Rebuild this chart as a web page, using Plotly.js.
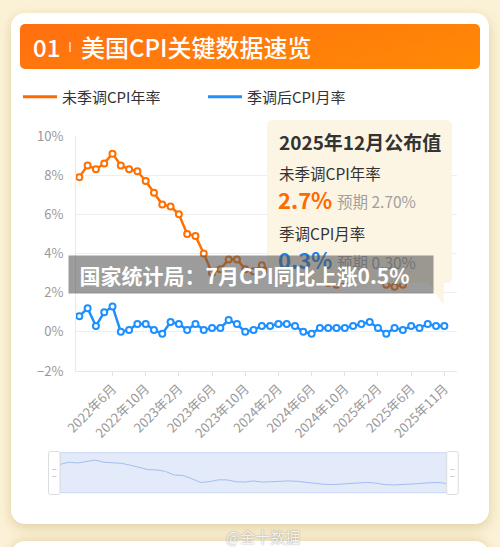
<!DOCTYPE html>
<html><head><meta charset="utf-8">
<script src="https://cdn.plot.ly/plotly-3.0.1.min.js"></script>
<style>
html,body{margin:0;padding:0;width:500px;height:547px;overflow:hidden;background:#fbf1d6;font-family:"Noto Sans CJK SC","Noto Sans",sans-serif;}
#card{position:absolute;left:11px;top:13px;width:478px;height:511px;background:#fff;border-radius:14px;box-shadow:0 4px 12px rgba(190,160,90,0.40);}
#card2{position:absolute;left:11px;top:541px;width:478px;height:40px;background:#fff;border-radius:14px;box-shadow:0 -2px 8px rgba(190,160,90,0.30);}
#header{position:absolute;left:20px;top:24px;width:460px;height:45px;border-radius:5px;background:linear-gradient(165deg,#ff6f10,#ff8a05);}
#hnum{position:absolute;left:13px;top:0;line-height:45px;font-size:24px;color:#fff;font-weight:500;}
#hsep{position:absolute;left:49px;top:18px;width:1.5px;height:10px;background:rgba(255,255,255,0.55);}
#htitle{position:absolute;left:61px;top:0;line-height:45px;font-size:24px;color:#fff;font-weight:500;}
#wm{position:absolute;left:226px;top:526px;font-size:15px;color:rgba(255,255,255,0.9);text-shadow:0 0 1.5px rgba(0,0,0,0.45);}
#chart{position:absolute;left:0;top:0;width:500px;height:547px;}
</style></head>
<body>
<div id="card"></div>
<div id="card2"></div>
<div id="header"><span id="hnum">01</span><div id="hsep"></div><span id="htitle">美国CPI关键数据速览</span></div>
<div id="wm">@金十数据</div>
<div id="chart"></div>
<script>
// ---- data ----
var months = [
 '2022年2月','2022年3月','2022年4月','2022年5月','2022年6月','2022年7月','2022年8月','2022年9月','2022年10月','2022年11月','2022年12月',
 '2023年1月','2023年2月','2023年3月','2023年4月','2023年5月','2023年6月','2023年7月','2023年8月','2023年9月','2023年10月','2023年11月','2023年12月',
 '2024年1月','2024年2月','2024年3月','2024年4月','2024年5月','2024年6月','2024年7月','2024年8月','2024年9月','2024年10月','2024年11月','2024年12月',
 '2025年1月','2025年2月','2025年3月','2025年4月','2025年5月','2025年6月','2025年7月','2025年8月','2025年9月','2025年11月'
];
var cpiYoY = [
 7.9, 8.5, 8.3, 8.6, 9.1, 8.5, 8.3, 8.2, 7.7, 7.1, 6.5,
 6.4, 6.0, 5.0, 4.9, 4.0, 3.0, 3.2, 3.7, 3.7, 3.2, 3.1, 3.4,
 3.1, 3.2, 3.5, 3.4, 3.3, 3.0, 2.9, 2.5, 2.4, 2.6, 2.7, 2.9,
 3.0, 2.8, 2.4, 2.3, 2.4, 2.7, 2.7, 2.9, 3.0, 2.7
];
var cpiMoM = [
 0.8, 1.2, 0.3, 1.0, 1.3, 0.0, 0.1, 0.4, 0.4, 0.1, -0.1,
 0.5, 0.4, 0.1, 0.4, 0.1, 0.2, 0.2, 0.6, 0.4, 0.0, 0.1, 0.3,
 0.3, 0.4, 0.4, 0.3, 0.0, -0.1, 0.2, 0.2, 0.2, 0.2, 0.3, 0.4,
 0.5, 0.2, -0.1, 0.2, 0.1, 0.3, 0.2, 0.4, 0.3, 0.3
];
var tickLabels = ['2022年6月','2022年10月','2023年2月','2023年6月','2023年10月','2024年2月','2024年6月','2024年10月','2025年2月','2025年6月','2025年11月'];
var seriesNames = ['未季调CPI年率','季调后CPI月率'];
var tipTitle = '2025年12月公布值';
var tipYoYLabel = '未季调CPI年率', tipYoYValue = '2.7%', tipYoYExp = '预期 2.70%';
var tipMoMLabel = '季调CPI月率', tipMoMValue = '0.3%', tipMoMExp = '预期 0.30%';
var bannerText = '国家统计局：7月CPI同比上涨0.5%';

// ---- geometry helpers (pixel -> paper) ----
var W=500,H=547,ML=40,MR=40,MT=136,MB=40,PW=W-ML-MR,PH=H-MT-MB;
function px(x){return (x-ML)/PW;}
function py(y){return (H-MB-y)/PH;}
function P(x,y){return px(x).toFixed(5)+','+py(y).toFixed(5);}
function rr(x0,y0,x1,y1,r){
  return 'M'+P(x0+r,y0)+' L'+P(x1-r,y0)+' Q'+P(x1,y0)+' '+P(x1,y0+r)+
    ' L'+P(x1,y1-r)+' Q'+P(x1,y1)+' '+P(x1-r,y1)+' L'+P(x0+r,y1)+' Q'+P(x0,y1)+' '+P(x0,y1-r)+
    ' L'+P(x0,y0+r)+' Q'+P(x0,y0)+' '+P(x0+r,y0)+' Z';
}
var ORANGE='#ff7000', BLUE='#1e8fff';
var FONT='"Noto Sans CJK SC","Noto Sans",sans-serif';

var traces = [
 {x:months,y:cpiYoY,type:'scatter',mode:'lines+markers',name:seriesNames[0],showlegend:false,
  line:{color:ORANGE,width:2.5},marker:{size:6,color:'#fff',line:{color:ORANGE,width:2}},hoverinfo:'skip'},
 {x:months,y:cpiMoM,type:'scatter',mode:'lines+markers',name:seriesNames[1],showlegend:false,
  line:{color:BLUE,width:2.5},marker:{size:6,color:'#fff',line:{color:BLUE,width:2}},hoverinfo:'skip'},
 {x:[null],y:[null],type:'scatter',mode:'lines',name:seriesNames[0],line:{color:'#ff6a00',width:3},hoverinfo:'skip'},
 {x:[null],y:[null],type:'scatter',mode:'lines',name:seriesNames[1],line:{color:'#1e90ff',width:3},hoverinfo:'skip'},
 {x:months,y:cpiYoY,type:'scatter',mode:'lines',xaxis:'x2',yaxis:'y2',showlegend:false,
  line:{color:'#a3bdf0',width:1},hoverinfo:'skip'}
];

function ann(x,y,text,size,color,weight,xa){
  return {xref:'paper',yref:'paper',x:px(x),y:py(y),text:text,showarrow:false,xanchor:xa||'left',yanchor:'middle',
    borderpad:0,font:{family:FONT,size:size,color:color,weight:weight||'normal'}};
}

var layout = {
  width:W,height:H,margin:{l:ML,r:MR,t:MT,b:MB},
  paper_bgcolor:'rgba(0,0,0,0)',plot_bgcolor:'rgba(0,0,0,0)',
  font:{family:FONT,color:'#999'},
  showlegend:true,
  legend:{orientation:'h',x:px(18),xanchor:'left',y:py(97),yanchor:'middle',itemwidth:34,entrywidth:136,entrywidthmode:'pixels',
    font:{family:FONT,size:15,color:'#333'},bgcolor:'rgba(0,0,0,0)'},
  xaxis:{type:'category',domain:[px(76),px(456.7)],range:[-0.4,45.49],autorange:false,
    tickmode:'array',tickvals:tickLabels,ticktext:tickLabels,tickangle:-45,
    tickfont:{size:13,color:'#999'},ticks:'outside',ticklen:4,tickcolor:'#e3e3e3',
    showgrid:false,showline:true,linecolor:'#e8e8e8',linewidth:1,zeroline:false,fixedrange:true,anchor:'y'},
  yaxis:{domain:[py(371),1],range:[-2,10],autorange:false,dtick:2,tick0:0,ticksuffix:'%',
    tickfont:{size:13,color:'#999'},ticks:'',ticklabelstandoff:9,
    showgrid:true,gridcolor:'#eeeeee',gridwidth:1,zeroline:false,showline:true,linecolor:'#e8e8e8',fixedrange:true,anchor:'x'},
  xaxis2:{type:'category',domain:[px(60),px(446.7)],range:[0,44],autorange:false,anchor:'y2',
    showticklabels:false,showgrid:false,zeroline:false,showline:false,ticks:'',fixedrange:true},
  yaxis2:{domain:[py(492.7),py(452.7)],range:[0.2,11.1],autorange:false,anchor:'x2',
    showticklabels:false,showgrid:false,zeroline:false,showline:false,ticks:'',fixedrange:true},
  shapes:[
    {type:'rect',xref:'paper',yref:'paper',x0:px(60),x1:px(446.7),y0:py(492.7),y1:py(452.7),
      fillcolor:'#e3ebfb',line:{color:'#cad7f3',width:1},layer:'below'},
    {type:'path',xref:'paper',yref:'paper',path:rr(48.5,451.5,60,494.5,2),fillcolor:'#ffffff',line:{color:'#dcdcdc',width:1},layer:'above'},
    {type:'path',xref:'paper',yref:'paper',path:rr(446.7,451.5,458.2,494.5,2),fillcolor:'#ffffff',line:{color:'#dcdcdc',width:1},layer:'above'},
    {type:'line',xref:'paper',yref:'paper',x0:px(52),x1:px(56.5),y0:py(469.5),y1:py(469.5),line:{color:'#cfcfcf',width:1},layer:'above'},
    {type:'line',xref:'paper',yref:'paper',x0:px(52),x1:px(56.5),y0:py(476.5),y1:py(476.5),line:{color:'#cfcfcf',width:1},layer:'above'},
    {type:'line',xref:'paper',yref:'paper',x0:px(450.2),x1:px(454.7),y0:py(469.5),y1:py(469.5),line:{color:'#cfcfcf',width:1},layer:'above'},
    {type:'line',xref:'paper',yref:'paper',x0:px(450.2),x1:px(454.7),y0:py(476.5),y1:py(476.5),line:{color:'#cfcfcf',width:1},layer:'above'},
    {type:'path',xref:'paper',yref:'paper',path:rr(267,120,452,283,6),fillcolor:'#fdf5e4',line:{width:0},layer:'above'},
    {type:'path',xref:'paper',yref:'paper',path:'M'+P(428,282)+' L'+P(444,282)+' L'+P(443.5,305)+' Z',fillcolor:'#fdf5e4',line:{width:0},layer:'above'}
  ],
  annotations:[
    ann(278,142,tipTitle,19,'#333','bold'),
    ann(278,172.5,tipYoYLabel,15.5,'#333'),
    ann(277,199,tipYoYValue,22,'#ff6a00','bold'),
    ann(336,200.5,tipYoYExp,15.5,'#a0a0a0'),
    ann(278,233,tipMoMLabel,15.5,'#333'),
    ann(277,259,tipMoMValue,22,'#1a80ea','bold'),
    ann(336,261.5,tipMoMExp,15.5,'#a0a0a0'),
    {xref:'paper',yref:'paper',x:px(68),y:py(255),xanchor:'left',yanchor:'top',showarrow:false,
      text:'\u2002'+bannerText,align:'left',valign:'middle',width:364,height:37,borderpad:0,
      bgcolor:'rgba(85,85,85,0.58)',font:{family:FONT,size:21,color:'#ffffff',weight:'bold'}}
  ]
};
Plotly.newPlot('chart',traces,layout,{displayModeBar:false,staticPlot:true});
</script>
</body></html>
